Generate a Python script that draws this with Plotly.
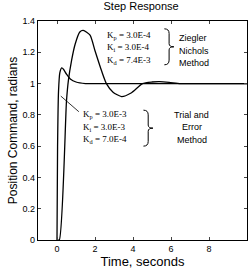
import plotly.graph_objects as go

# Trial and Error response
t_trial = [0, 0.03, 0.08, 0.15, 0.25, 0.35, 0.5, 0.7, 1.0, 1.5, 2.0, 4.0, 6.0, 8.0, 10.0]
y_trial = [0, 0.6, 0.95, 1.07, 1.10, 1.09, 1.06, 1.03, 1.01, 1.0, 1.0, 1.0, 1.0, 1.0, 1.0]

# Ziegler Nichols response
t_zn = [0, 0.12, 0.5, 0.6, 0.77, 0.95, 1.2, 1.38, 1.74, 2.0, 2.35, 2.6, 2.95, 3.4, 3.9, 4.5, 5.0, 5.4, 5.9, 6.5, 8.0, 10.0]
y_zn = [0, 0.0, 0.89, 1.02, 1.15, 1.25, 1.33, 1.34, 1.31, 1.21, 1.08, 1.0, 0.945, 0.917, 0.94, 1.0, 1.01, 1.012, 1.008, 1.0, 1.0, 1.0]

x_ticks = [0, 2, 4, 6, 8, 10]
y_ticks = [0, 0.2, 0.4, 0.6, 0.8, 1, 1.2, 1.4]

zn_labels = ["K<sub>p</sub> = 3.0E-4", "K<sub>i</sub> = 3.0E-4", "K<sub>d</sub> = 7.4E-3"]
zn_method = ["Ziegler", "Nichols", "Method"]
tr_labels = ["K<sub>p</sub> = 3.0E-3", "K<sub>i</sub> = 3.0E-3", "K<sub>d</sub> = 7.0E-4"]
tr_method = ["Trial and", "Error", "Method"]

fig = go.Figure()
fig.add_trace(go.Scatter(x=t_trial, y=y_trial, mode="lines", line=dict(color="black", width=1.3, shape="spline", smoothing=0.6), showlegend=False))
fig.add_trace(go.Scatter(x=t_zn, y=y_zn, mode="lines", line=dict(color="black", width=1.3, shape="spline", smoothing=0.6), showlegend=False))

serif = "Liberation Serif"
sans = "Liberation Sans"
ann = []
# ZN labels
for i, (k, m) in enumerate(zip(zn_labels, zn_method)):
    yv = 1.31 - i * 0.08
    ann.append(dict(x=2.5, y=yv, text=k, showarrow=False, xanchor="left", yanchor="middle", font=dict(family=serif, size=9, color="black")))
    ann.append(dict(x=6.3, y=yv - 0.02, text=m, showarrow=False, xanchor="left", yanchor="middle", font=dict(family=sans, size=9, color="black")))
# Trial labels
for i, (k, m) in enumerate(zip(tr_labels, tr_method)):
    yv = 0.80 - i * 0.08
    ann.append(dict(x=1.25, y=yv, text=k, showarrow=False, xanchor="left", yanchor="middle", font=dict(family=serif, size=9, color="black")))
    ann.append(dict(x=7.1, y=yv, text=m, showarrow=False, xanchor="center", yanchor="middle", font=dict(family=sans, size=9, color="black")))

shapes = []
def brace(x, y0, y1, w=0.25):
    ym = (y0 + y1) / 2
    p = (f"M {x},{y1} Q {x+w},{y1} {x+w},{y1-0.03} L {x+w},{ym+0.02} Q {x+w},{ym} {x+2*w},{ym} "
         f"Q {x+w},{ym} {x+w},{ym-0.02} L {x+w},{y0+0.03} Q {x+w},{y0} {x},{y0}")
    return dict(type="path", path=p, line=dict(color="black", width=1), xref="x", yref="y")
shapes.append(brace(5.65, 1.12, 1.35))
shapes.append(brace(4.55, 0.6, 0.83))
# pointer line
shapes.append(dict(type="line", x0=0.2, y0=0.92, x1=1.15, y1=0.82, line=dict(color="black", width=0.8)))

fig.update_layout(
    width=252, height=273,
    margin=dict(l=38, r=5, t=21, b=33),
    paper_bgcolor="white", plot_bgcolor="white",
    title=dict(text="Step Response", x=0.56, xanchor="center", y=0.99, yanchor="top", font=dict(family=sans, size=11, color="black")),
    annotations=ann, shapes=shapes,
    xaxis=dict(range=[-1, 10], tickvals=x_ticks, ticks="inside", ticklen=3, mirror="ticks", showline=True, linecolor="black", linewidth=1.2,
               showgrid=False, zeroline=False, tickfont=dict(family=sans, size=9, color="black"),
               title=dict(text="Time, seconds", font=dict(family=sans, size=13, color="black"), standoff=3)),
    yaxis=dict(range=[0, 1.4], tickvals=y_ticks, ticks="inside", ticklen=3, mirror="ticks", showline=True, linecolor="black", linewidth=1.2,
               showgrid=False, zeroline=False, tickfont=dict(family=sans, size=9, color="black"),
               title=dict(text="Position Command, radians", font=dict(family=sans, size=12, color="black"), standoff=2)),
)
fig.write_html("out.html")
